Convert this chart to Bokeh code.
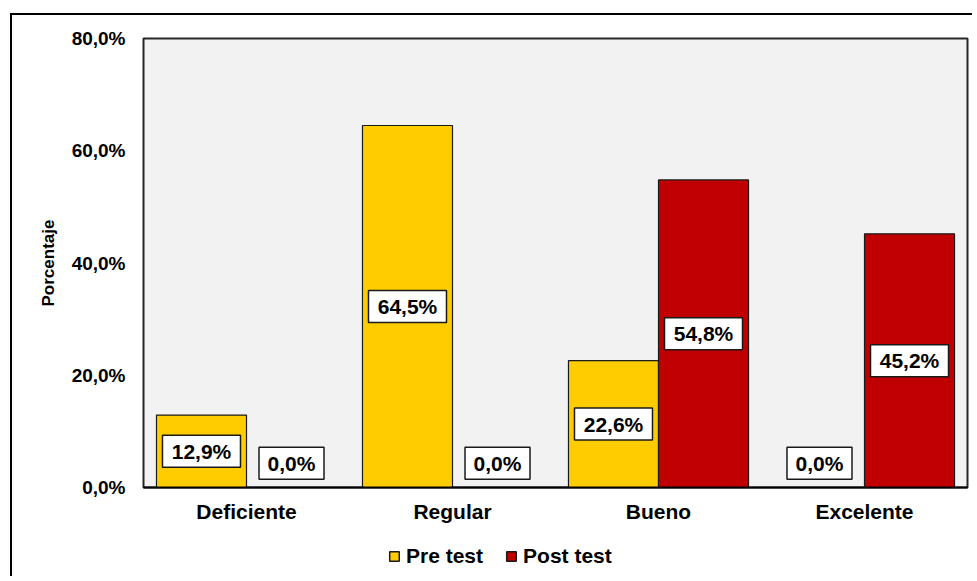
from bokeh.plotting import figure
from bokeh.layouts import column
from bokeh.models import ColumnDataSource, Legend, LegendItem, FixedTicker, Range1d, FactorRange
from bokeh.transform import dodge
from bokeh.embed import file_html
from bokeh.resources import INLINE

categories = ["Deficiente", "Regular", "Bueno", "Excelente"]
pre_test = [12.9, 64.5, 22.6, 0.0]
post_test = [0.0, 0.0, 54.8, 45.2]
y_ticks = [0, 20, 40, 60, 80]
series_names = ["Pre test", "Post test"]
colors = ["#FFCC00", "#C00000"]

FONT = "Liberation Sans"
BAR_W = 0.437
LABEL_MIN = 4.3
OX, OY = 12, 15  # offset of content inside outer border


def fmt(v):
    return f"{v:.1f}".replace(".", ",") + "%"


def box_w(s):
    return 13 * len(s) + 13


pre_lab = [fmt(v) for v in pre_test]
post_lab = [fmt(v) for v in post_test]
src = ColumnDataSource(dict(
    cat=categories,
    pre=pre_test,
    post=post_test,
    pre_lab=pre_lab,
    post_lab=post_lab,
    pre_w=[box_w(s) for s in pre_lab],
    post_w=[box_w(s) for s in post_lab],
    pre_y=[max(v / 2, LABEL_MIN) for v in pre_test],
    post_y=[max(v / 2, LABEL_MIN) for v in post_test],
))

W = 960
H = 515
p = figure(
    x_range=FactorRange(*categories, range_padding=0),
    y_range=Range1d(0, 80),
    width=W, height=H,
    output_backend="svg", toolbar_location=None,
    min_border_left=143 - OX, min_border_top=38 - OY,
    min_border_right=W - (967 - OX), min_border_bottom=H - (487 - OY),
)
p.background_fill_color = "#F2F2F2"
p.border_fill_color = "white"
p.outline_line_color = "#262626"
p.outline_line_width = 2
p.grid.visible = False

off = BAR_W / 2
r_pre = p.vbar(x=dodge("cat", -off, range=p.x_range), top="pre", width=BAR_W, source=src,
               fill_color=colors[0], line_color="#1a1a1a", line_width=1.2)
r_post = p.vbar(x=dodge("cat", off, range=p.x_range), top="post", width=BAR_W, source=src,
                fill_color=colors[1], line_color="#1a1a1a", line_width=1.2)

for ycol, lab, wcol, sign in [("pre_y", "pre_lab", "pre_w", -1), ("post_y", "post_lab", "post_w", 1)]:
    xx = dodge("cat", sign * off, range=p.x_range)
    p.rect(x=xx, y=ycol, width=wcol, height=32, width_units="screen", height_units="screen",
           source=src, fill_color="white", line_color="#1a1a1a", line_width=1.5)
    p.text(x=xx, y=ycol, text=lab, source=src, text_align="center", text_baseline="middle",
           text_font={"value": FONT}, text_font_style="bold", text_font_size="21px", text_color="black")

# y axis
ya = p.yaxis[0]
ya.ticker = FixedTicker(ticks=y_ticks)
ya.major_label_overrides = {t: fmt(t) for t in y_ticks}
ya.axis_line_color = None
ya.major_tick_line_color = None
ya.major_tick_out = 0
ya.major_tick_in = 0
ya.minor_tick_line_color = None
ya.major_label_standoff = 18
ya.major_label_text_font = FONT
ya.major_label_text_font_style = "bold"
ya.major_label_text_font_size = "19px"
ya.major_label_text_color = "black"
ya.axis_label = "Porcentaje"
ya.axis_label_text_font = FONT
ya.axis_label_text_font_style = "bold"
ya.axis_label_text_font_size = "17px"
ya.axis_label_text_color = "black"
ya.axis_label_standoff = 11

xa = p.xaxis[0]
xa.axis_line_color = "black"
xa.axis_line_width = 2
xa.major_tick_line_color = None
xa.major_tick_out = 0
xa.major_tick_in = 0
xa.minor_tick_line_color = None
xa.major_label_standoff = 12
xa.major_label_text_font = FONT
xa.major_label_text_font_style = "bold"
xa.major_label_text_font_size = "21px"
xa.major_label_text_color = "black"

# legend strip below the chart (its frame aligns with the chart's frame in the column)
LH = 46
q = figure(width=W, height=LH, output_backend="svg", toolbar_location=None,
           x_range=Range1d(0, 1), y_range=Range1d(0, 1), x_axis_type=None, y_axis_type=None,
           min_border=0)
q.outline_line_color = None
q.grid.visible = False
q.background_fill_color = "white"
q.border_fill_color = "white"
# hidden legend proxies: only their legend swatches show
e_pre = q.vbar(x=[0.5], top=[1], width=0.1, fill_color=colors[0], line_color="#1a1a1a",
               line_width=1.5, visible=False)
e_post = q.vbar(x=[0.5], top=[1], width=0.1, fill_color=colors[1], line_color="#1a1a1a",
                line_width=1.5, visible=False)
legend = Legend(items=[LegendItem(label=series_names[0], renderers=[e_pre]),
                       LegendItem(label=series_names[1], renderers=[e_post])],
                orientation="horizontal", location=(245, 8))
legend.label_text_font = FONT
legend.label_text_font_style = "bold"
legend.label_text_font_size = "21px"
legend.label_text_color = "black"
legend.glyph_width = 12
legend.glyph_height = 12
legend.label_standoff = 6
legend.spacing = 22
legend.border_line_color = None
legend.background_fill_alpha = 0
legend.inactive_fill_alpha = 0
legend.padding = 4
legend.margin = 0
q.add_layout(legend, "center")

layout = column(p, q, spacing=0, margin=(OY - 2, 0, 0, OX - 2),
                styles={"border-top": "2px solid black", "border-left": "2px solid black"})

open("out.html", "w").write(file_html(layout, INLINE))
